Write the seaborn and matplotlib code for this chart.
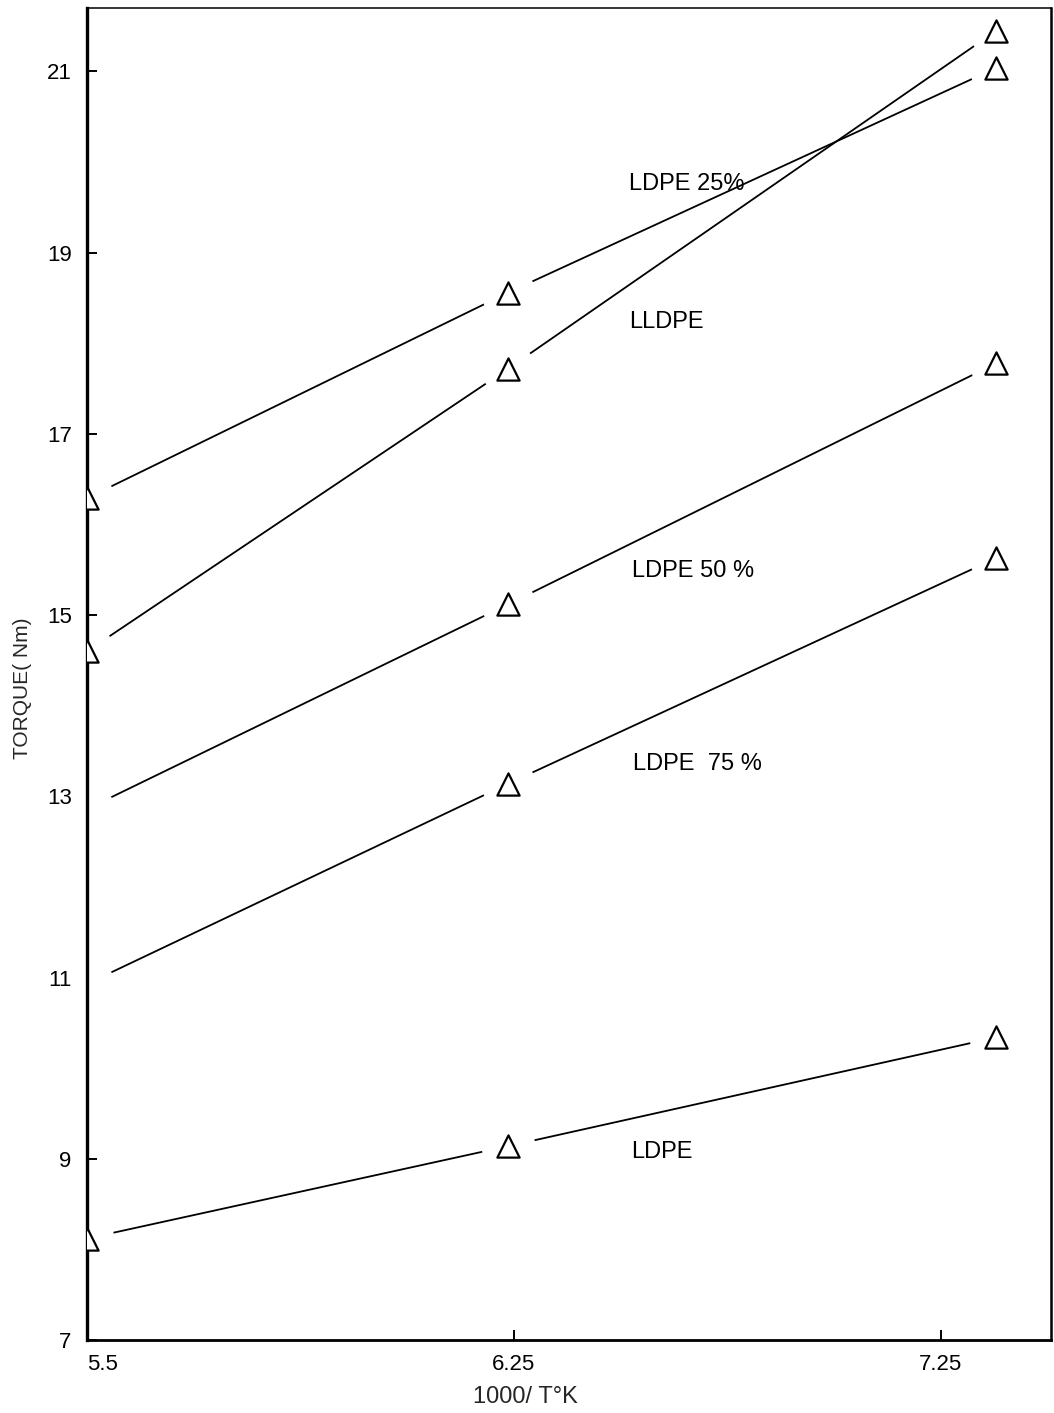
import numpy as np
import pandas as pd
import matplotlib
matplotlib.use("Agg")
import matplotlib.pyplot as plt
import seaborn as sns

# ---------------- data ----------------
x_values = [5.5, 6.24, 7.38]
series_names = ["LDPE 25%", "LLDPE", "LDPE 50%", "LDPE 75%", "LDPE"]
ldpe25 = [16.29, 18.56, 21.04]
lldpe = [14.60, 17.72, 21.45]
ldpe50 = [12.86, 15.12, 17.78]
ldpe75 = [10.93, 13.14, 15.63]
ldpe = [8.12, 9.14, 10.34]
marker_shown = {
    "LDPE 25%": [True, True, True],
    "LLDPE": [True, True, True],
    "LDPE 50%": [False, True, True],
    "LDPE 75%": [False, True, True],
    "LDPE": [True, True, True],
}
label_texts = {"LDPE 25%": "LDPE 25%", "LLDPE": "LLDPE", "LDPE 50%": "LDPE 50 %",
               "LDPE 75%": "LDPE  75 %", "LDPE": "LDPE"}
label_pos = {"LDPE 25%": (6.52, 19.76), "LLDPE": (6.52, 18.23), "LDPE 50%": (6.527, 15.49),
             "LDPE 75%": (6.53, 13.36), "LDPE": (6.525, 9.08)}
x_ticks = [5.5, 6.25, 7.25]
x_ticklabels = ["5.5", "6.25", "7.25"]
y_ticks = [7, 9, 11, 13, 15, 17, 19, 21]

values = {"LDPE 25%": ldpe25, "LLDPE": lldpe, "LDPE 50%": ldpe50,
          "LDPE 75%": ldpe75, "LDPE": ldpe}
rows = []
for name in series_names:
    for i, (xv, yv) in enumerate(zip(x_values, values[name])):
        rows.append({"x": xv, "y": yv, "series": name, "shown": marker_shown[name][i]})
df = pd.DataFrame(rows)

# ---------------- style ----------------
sns.set_style("ticks")
plt.rcParams["font.family"] = ["Liberation Sans", "DejaVu Sans"]

fig = plt.figure(figsize=(10.54, 14.13), dpi=100)
ax = fig.add_axes([87 / 1054, 73 / 1413, 964 / 1054, 1332 / 1413])


def fwd(x):
    x = np.asarray(x, float)
    return np.where(x <= 6.25, (x - 5.5) / 0.75, 1.0 + (x - 6.25))


def inv(u):
    u = np.asarray(u, float)
    return np.where(u <= 1.0, 5.5 + 0.75 * u, 6.25 + (u - 1.0))


ax.set_xscale("function", functions=(fwd, inv))

# lines
for name in series_names:
    sub = df[df.series == name]
    sns.lineplot(data=sub, x="x", y="y", ax=ax, color="black", linewidth=1.3,
                 sort=False, estimator=None, legend=False, zorder=2)

# white gaps around the points
sns.scatterplot(data=df, x="x", y="y", ax=ax, color="white", s=1500,
                linewidth=0, legend=False, zorder=2.2, marker="o")

# open triangles
sns.scatterplot(data=df[df.shown], x="x", y="y", ax=ax, marker="^", s=16 ** 2,
                facecolor="white", edgecolor="black", linewidth=1.6,
                legend=False, zorder=3)

for name in series_names:
    tx, ty = label_pos[name]
    ax.text(tx, ty, label_texts[name], ha="left", va="center", fontsize=17,
            color="black", zorder=4)

ax.set_xlim(5.5, 7.508)
ax.set_ylim(7, 21.7)
ax.set_xticks(x_ticks)
ax.set_xticklabels(x_ticklabels)
ax.set_yticks(y_ticks)
ax.set_yticklabels([str(v) for v in y_ticks])
ax.tick_params(axis="both", direction="in", length=7, width=1.4, colors="black",
               labelsize=16)
ax.tick_params(axis="y", pad=11)
ax.tick_params(axis="x", pad=10)
ax.get_xticklabels()[0].set_ha("left")

ax.set_xlabel("1000/ T°K", fontsize=17)
ax.set_ylabel("TORQUE( Nm)", fontsize=15)
ax.xaxis.label.set_va("center")
ax.yaxis.label.set_va("center")
ax.xaxis.set_label_coords(0.455, -0.0428)
ax.yaxis.set_label_coords(-0.0664, 0.4895)

for side, lw in {"left": 2.4, "bottom": 2.0, "top": 1.1, "right": 1.8}.items():
    ax.spines[side].set_visible(True)
    ax.spines[side].set_linewidth(lw)
    ax.spines[side].set_color("black")

fig.savefig("out.png", dpi=100, facecolor="white")
